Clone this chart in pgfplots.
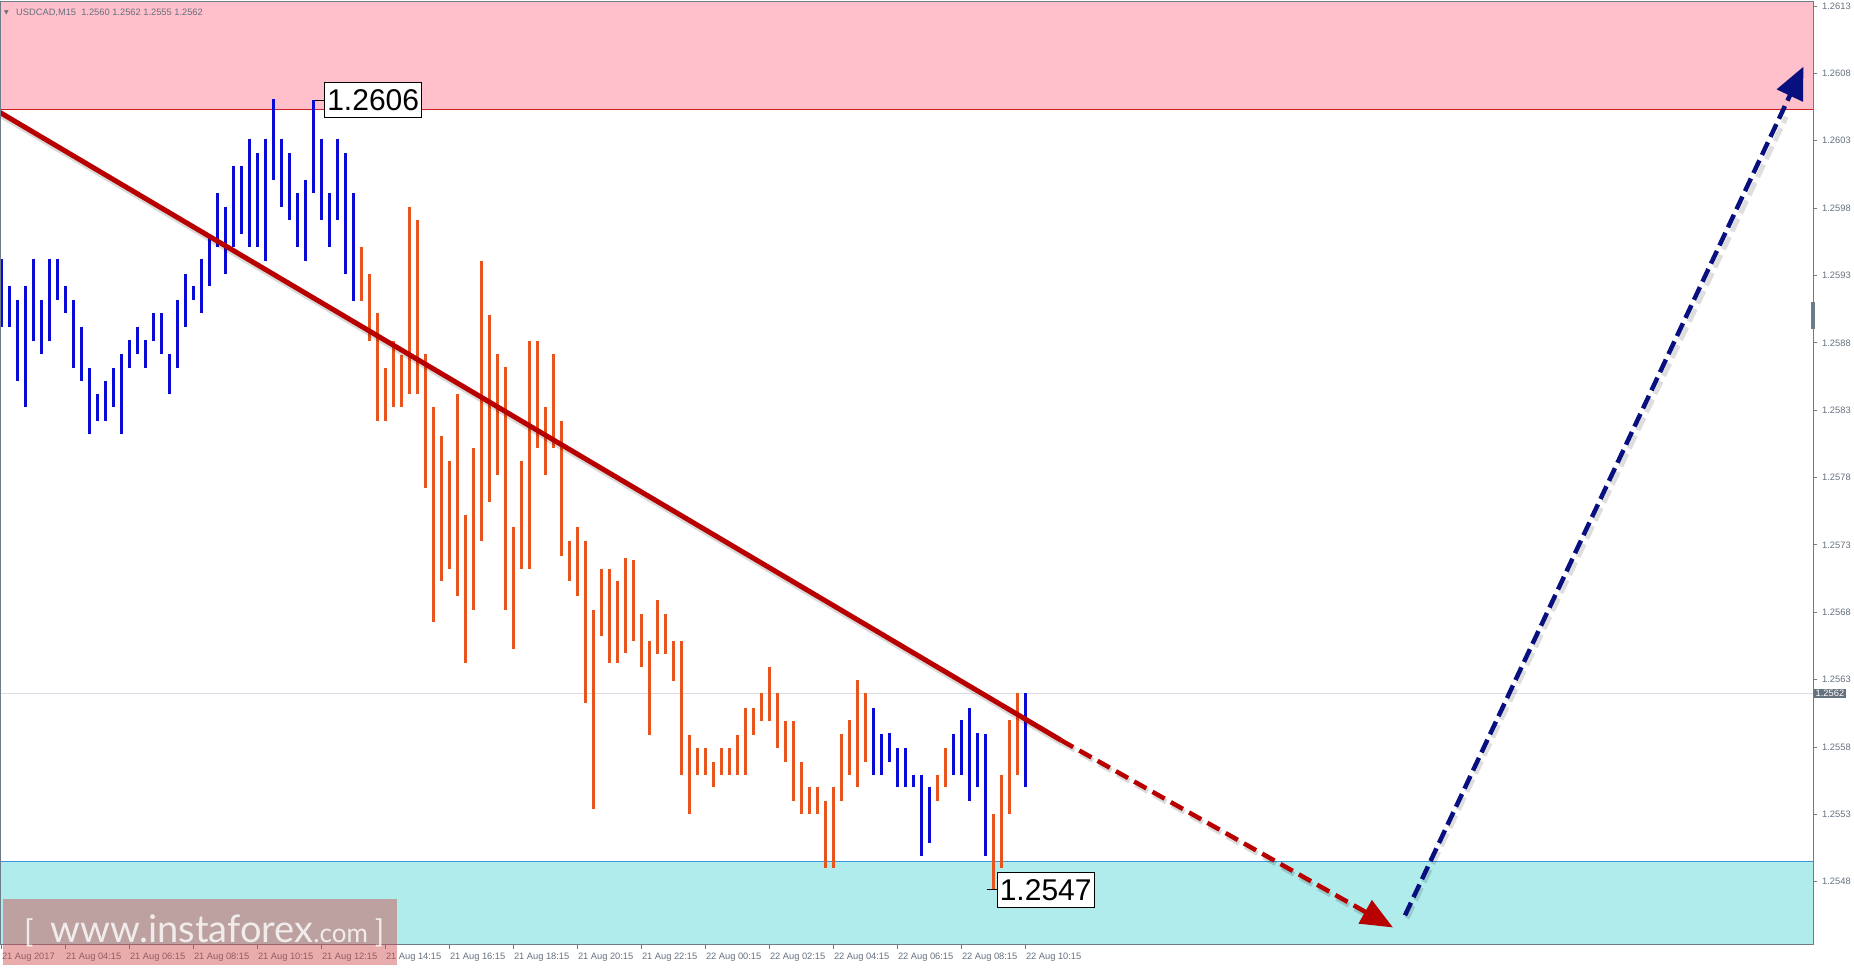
\documentclass[border=0pt]{standalone}
\usepackage{fontspec}
\setmainfont{Liberation Sans}
\newfontfamily\djv{DejaVu Sans}
\newfontfamily\lato{Lato}
\usepackage{pgfplots}
\pgfplotsset{compat=1.18}
\usepackage{pgfplotstable}
\usetikzlibrary{arrows.meta}

\definecolor{barblue}{RGB}{10,10,215}
\definecolor{barorange}{RGB}{232,84,30}
\definecolor{trendred}{RGB}{185,0,0}
\definecolor{arrownavy}{RGB}{8,16,128}
\definecolor{zonepink}{RGB}{255,192,203}
\definecolor{zonecyan}{RGB}{176,236,236}
\definecolor{axisgray}{RGB}{110,124,138}
\definecolor{labelgray}{RGB}{100,112,125}
\definecolor{bidgray}{RGB}{220,220,230}

% bar index, low, high  (M15 bars, index 0 = 21 Aug 02:15)
\pgfplotstableread{
i lo hi
0 1.25892 1.25942
1 1.25892 1.25922
2 1.25852 1.25912
3 1.25832 1.25922
4 1.25881 1.25942
5 1.25872 1.25912
6 1.25881 1.25942
7 1.25912 1.25942
8 1.25902 1.25922
9 1.25861 1.25912
10 1.25852 1.25892
11 1.25812 1.25861
12 1.25822 1.25842
13 1.25822 1.25852
14 1.25832 1.25861
15 1.25812 1.25872
16 1.25861 1.25882
17 1.25872 1.25892
18 1.25861 1.25882
19 1.25881 1.25902
20 1.25872 1.25902
21 1.25842 1.25872
22 1.25861 1.25912
23 1.25892 1.25931
24 1.25912 1.25922
25 1.25902 1.25942
26 1.25922 1.25961
27 1.25951 1.25991
28 1.25931 1.25981
29 1.25951 1.26011
30 1.25961 1.26011
31 1.25951 1.26031
32 1.25951 1.26021
33 1.25941 1.26031
34 1.26001 1.26061
35 1.25981 1.26031
36 1.25971 1.26021
37 1.25951 1.25991
38 1.25941 1.26001
39 1.25991 1.26060
40 1.25971 1.26031
41 1.25951 1.25991
42 1.25971 1.26031
43 1.25931 1.26021
44 1.25911 1.25991
109 1.25559 1.25609
110 1.25559 1.25590
111 1.25569 1.25590
112 1.25550 1.25579
113 1.25550 1.25579
114 1.25550 1.25559
115 1.25499 1.25559
116 1.25509 1.25550
119 1.25559 1.25590
120 1.25559 1.25600
121 1.25540 1.25609
122 1.25550 1.25590
123 1.25499 1.25590
128 1.25550 1.25620
}\bluebars

\pgfplotstableread{
i lo hi
45 1.25911 1.25951
46 1.25881 1.25931
47 1.25822 1.25902
48 1.25822 1.25861
49 1.25832 1.25881
50 1.25832 1.25871
51 1.25842 1.25981
52 1.25842 1.25971
53 1.25772 1.25872
54 1.25673 1.25832
55 1.25703 1.25811
56 1.25712 1.25792
57 1.25692 1.25842
58 1.25642 1.25752
59 1.25682 1.25802
60 1.25733 1.25941
61 1.25762 1.25901
62 1.25782 1.25872
63 1.25682 1.25862
64 1.25653 1.25743
65 1.25712 1.25792
66 1.25712 1.25881
67 1.25802 1.25881
68 1.25782 1.25832
69 1.25802 1.25872
70 1.25722 1.25822
71 1.25703 1.25733
72 1.25692 1.25743
73 1.25613 1.25733
74 1.25534 1.25682
75 1.25662 1.25712
76 1.25642 1.25712
77 1.25642 1.25703
78 1.25650 1.25720
79 1.25659 1.25719
80 1.25639 1.25679
81 1.25589 1.25659
82 1.25649 1.25689
83 1.25649 1.25679
84 1.25629 1.25659
85 1.25559 1.25659
86 1.25530 1.25589
87 1.25559 1.25579
88 1.25559 1.25579
89 1.25550 1.25569
90 1.25559 1.25579
91 1.25559 1.25579
92 1.25559 1.25589
93 1.25559 1.25609
94 1.25589 1.25609
95 1.25599 1.25620
96 1.25599 1.25639
97 1.25579 1.25620
98 1.25569 1.25599
99 1.25540 1.25599
100 1.25530 1.25569
101 1.25530 1.25550
102 1.25530 1.25550
103 1.25490 1.25540
104 1.25490 1.25550
105 1.25540 1.25590
106 1.25559 1.25600
107 1.25550 1.25630
108 1.25569 1.25620
117 1.25540 1.25559
118 1.25550 1.25579
124 1.25474 1.25530
125 1.25490 1.25559
126 1.25530 1.25600
127 1.25559 1.25620
}\orangebars

\begin{document}
\begin{tikzpicture}[x=1pt,y=1pt]
\path[use as bounding box] (0,0) rectangle (1854,968);
\begin{axis}[
  at={(0pt,23pt)}, anchor=south west,
  scale only axis, width=1813pt, height=943pt,
  xmin=-0.225, xmax=226.4, ymin=1.25433, ymax=1.26133,
  clip=false,
  axis on top,
  axis line style={draw=axisgray, line width=1pt},
  tick style={draw=axisgray, line width=0.8pt},
  tick align=outside, major tick length=4pt,
  xtick pos=bottom, ytick pos=right,
  yticklabel pos=right,
  xtick={0,8,16,24,32,40,48,56,64,72,80,88,96,104,112,120,128},
  xticklabels={21 Aug 2017,21 Aug 04:15,21 Aug 06:15,21 Aug 08:15,21 Aug 10:15,21 Aug 12:15,21 Aug 14:15,21 Aug 16:15,21 Aug 18:15,21 Aug 20:15,21 Aug 22:15,22 Aug 00:15,22 Aug 02:15,22 Aug 04:15,22 Aug 06:15,22 Aug 08:15,22 Aug 10:15},
  ytick={1.2548,1.2553,1.2558,1.2563,1.2568,1.2573,1.2578,1.2583,1.2588,1.2593,1.2598,1.2603,1.2608,1.2613},
  scaled y ticks=false,
  y tick label style={/pgf/number format/fixed, /pgf/number format/fixed zerofill, /pgf/number format/precision=4, /pgf/number format/assume math mode=true, font=\fontsize{9.3}{10}\selectfont, text=labelgray, anchor=west, inner sep=0pt, xshift=5pt},
  x tick label style={font=\fontsize{9.3}{10}\selectfont, text=labelgray, anchor=north west, inner sep=0pt, xshift=0pt, yshift=-4pt},
]
% zones
\addplot[fill=zonepink, draw=none] coordinates {(-0.225,1.26053) (226.4,1.26053) (226.4,1.26133) (-0.225,1.26133)};
\addplot[draw={rgb,255:red,210;green,30;blue,30}, line width=1pt] coordinates {(-0.225,1.26053) (226.4,1.26053)};
\addplot[fill=zonecyan, draw=none] coordinates {(-0.225,1.25433) (226.4,1.25433) (226.4,1.25495) (-0.225,1.25495)};
\addplot[draw={rgb,255:red,60;green,150;blue,215}, line width=1pt] coordinates {(-0.225,1.25495) (226.4,1.25495)};
% bid line
\addplot[draw=bidgray, line width=1pt] coordinates {(-0.225,1.2562) (226.4,1.2562)};
% bars
\addplot[draw=none, mark=none, error bars/.cd, y dir=plus, y explicit, error mark=none,
  error bar style={draw=barblue, line width=3pt}]
  table[x=i, y=lo, y error plus expr=\thisrow{hi}-\thisrow{lo}] {\bluebars};
\addplot[draw=none, mark=none, error bars/.cd, y dir=plus, y explicit, error mark=none,
  error bar style={draw=barorange, line width=3pt}]
  table[x=i, y=lo, y error plus expr=\thisrow{hi}-\thisrow{lo}] {\orangebars};
% trend line shadows
\addplot[draw=black, opacity=0.15, line width=6pt, transform canvas={xshift=1.5pt,yshift=-3pt}] coordinates {(-0.225,1.26051) (132.4,1.25585)};
\addplot[draw=black, opacity=0.15, line width=5pt, dash pattern=on 14pt off 7pt, transform canvas={xshift=1.5pt,yshift=-3pt}] coordinates {(132.4,1.25585) (170.5,1.25457)};
\addplot[draw=black, opacity=0.13, line width=5pt, dash pattern=on 14pt off 6pt, transform canvas={xshift=2pt,yshift=-3pt}] coordinates {(175.4,1.25455) (222.8,1.26050)};
% trend line
\addplot[draw=trendred, line width=5pt] coordinates {(-0.225,1.26051) (132.4,1.25585)};
\addplot[draw=trendred, line width=4.5pt, dash pattern=on 14pt off 7pt, -{Triangle[length=32pt,width=26pt]}] coordinates {(132.4,1.25585) (173.9,1.25446)};
% forecast arrow
\addplot[draw=arrownavy, line width=4.5pt, dash pattern=on 14pt off 6pt, -{Triangle[length=32pt,width=28pt]}] coordinates {(175.4,1.25455) (225.2,1.26085)};
% extreme labels
\draw[black, line width=1pt] (axis cs:39,1.2606) ++(1.5pt,0pt) -- ++(9pt,0pt)
  node[anchor=west, draw=black, line width=1pt, fill=white, inner xsep=2.5pt, inner ysep=6pt, text height=22pt, text depth=1pt, font=\fontsize{30}{31}\selectfont] {1.2606};
\draw[black, line width=1pt] (axis cs:124,1.25474) ++(-7pt,0pt) -- ++(10pt,0pt)
  node[anchor=west, draw=black, line width=1pt, fill=white, inner xsep=2.5pt, inner ysep=6pt, text height=22pt, text depth=1pt, font=\fontsize{30}{31}\selectfont] {1.2547};
% current price tag and scroll handle
\node[anchor=west, fill=labelgray, text=white, inner xsep=1.5pt, inner ysep=1.2pt, font=\fontsize{9.3}{10}\selectfont, xshift=1pt] at (axis cs:226.4,1.2562) {1.2562};
\fill[axisgray] (axis cs:226.4,1.25910) ++(-2pt,0pt) rectangle ++(4pt,-27pt);
% header
\node[anchor=west, inner sep=0pt, text=labelgray, font=\djv\fontsize{6}{6}\selectfont, xshift=4pt, yshift=-11pt] at (rel axis cs:0,1) {▼};
\node[anchor=west, inner sep=0pt, text=labelgray, font=\fontsize{9.3}{10}\selectfont, xshift=16pt, yshift=-11pt] at (rel axis cs:0,1) {USDCAD,M15\ \ 1.2560 1.2562 1.2555 1.2562};
\end{axis}
% watermark
\fill[fill={rgb,255:red,205;green,70;blue,70}, opacity=0.45] (3,3) rectangle (397,69);
\node[anchor=base west, text=white, opacity=0.8, inner sep=0pt, font=\lato] at (24,25)
  {{\fontsize{31}{31}\selectfont[}\hspace{17pt}{\fontsize{38}{38}\selectfont www.instaforex}{\fontsize{26}{26}\selectfont.com}\hspace{7pt}{\fontsize{31}{31}\selectfont]}};
\end{tikzpicture}
\end{document}
